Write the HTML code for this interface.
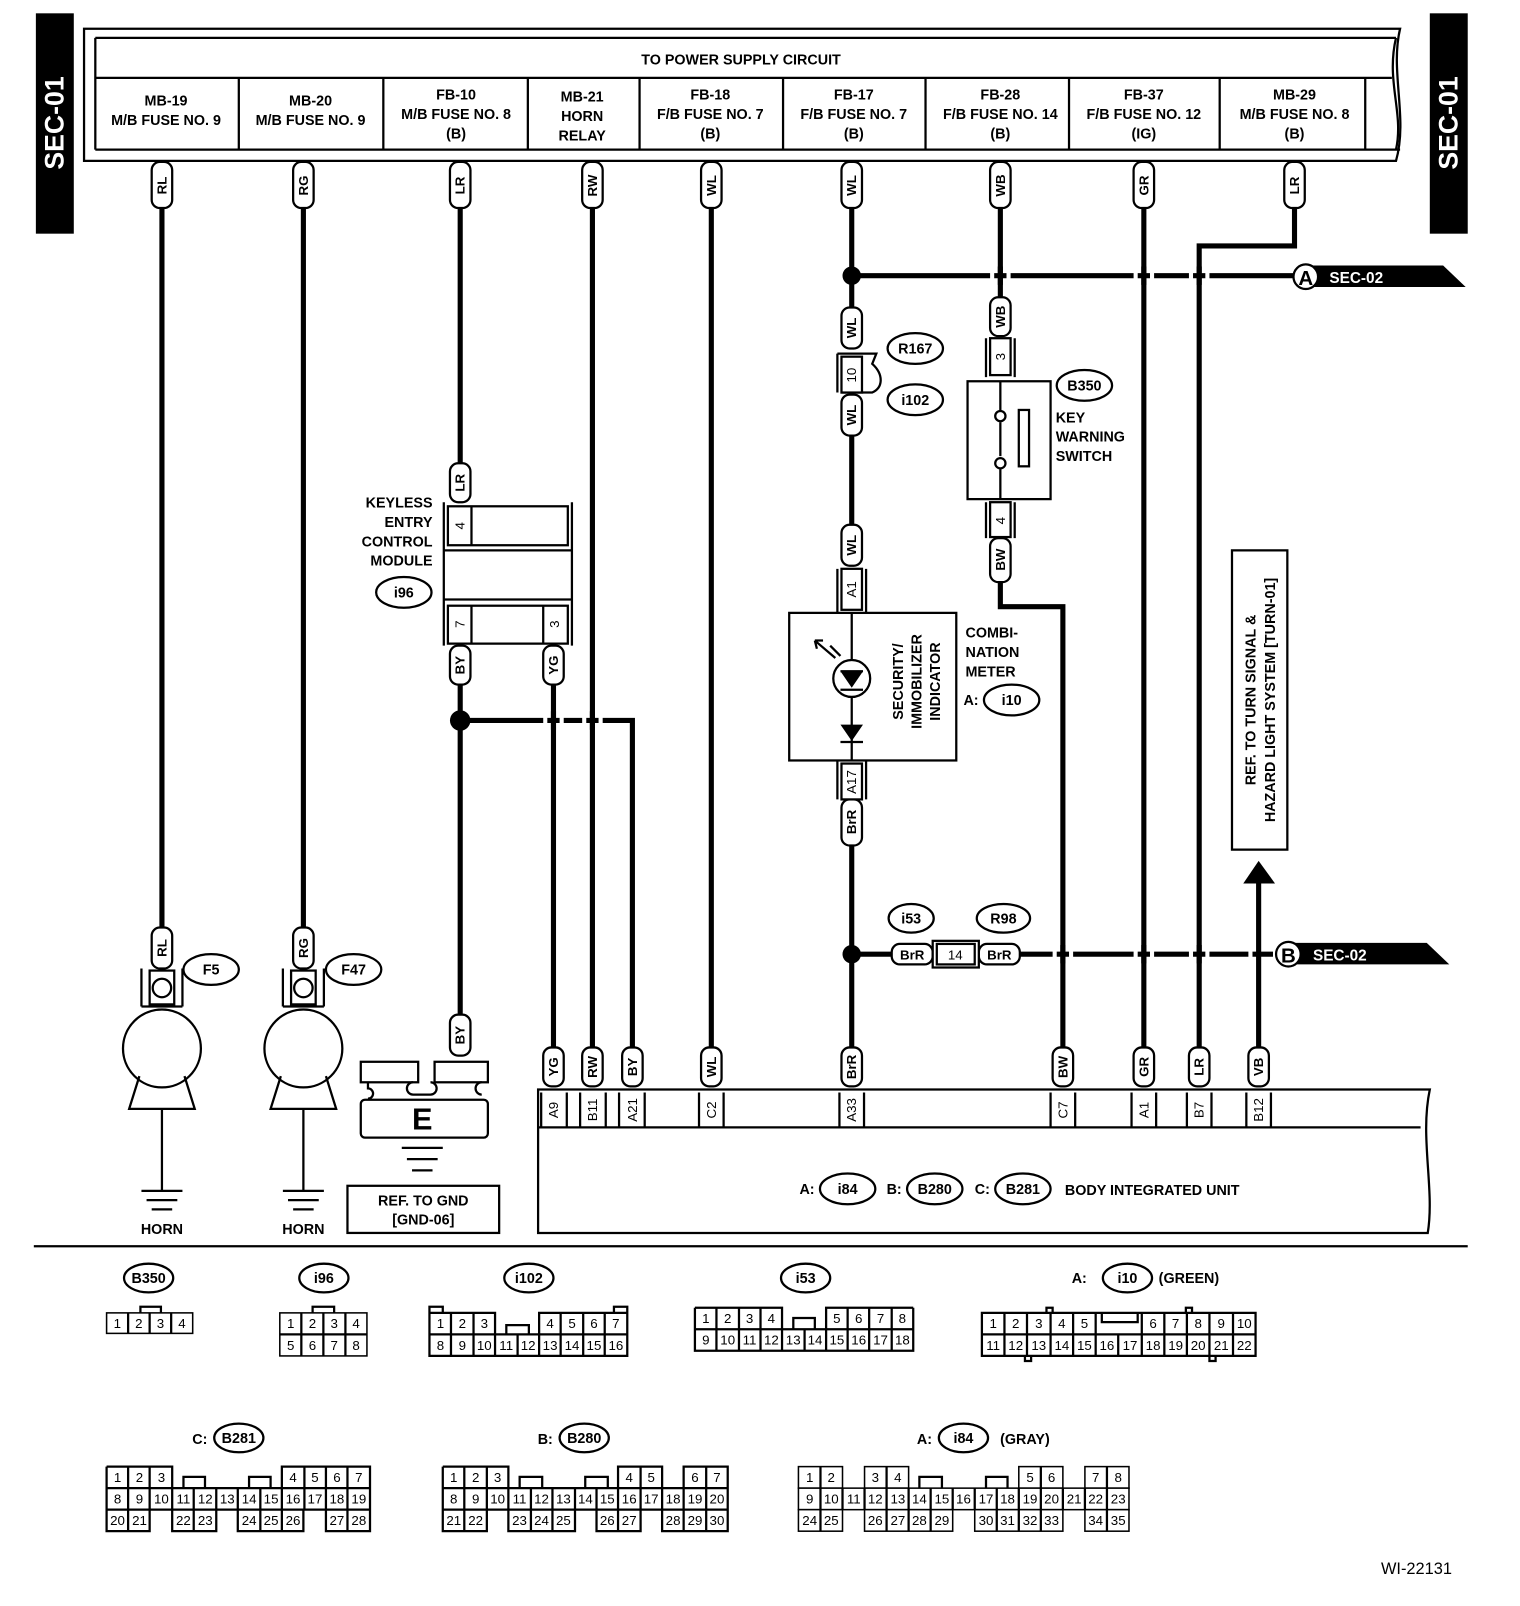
<!DOCTYPE html>
<html><head><meta charset="utf-8"><style>
html,body{margin:0;padding:0;background:#fff}
svg{display:block}
text{font-family:"Liberation Sans",sans-serif;fill:#000}
.h{font-size:14px;font-weight:bold;text-anchor:middle}
.p{font-size:13px;font-weight:bold;text-anchor:middle;dominant-baseline:central}
.l{font-size:14px;font-weight:bold}
.n{font-size:13px;text-anchor:middle}
.c{fill:#fff;stroke:#000;stroke-width:1.5}
.w{stroke:#000;stroke-width:5;fill:none}
.t{stroke:#000;stroke-width:2.2;fill:none}
.pl{fill:#fff;stroke:#000;stroke-width:2.2}
.e{fill:#fff;stroke:#000;stroke-width:2.2}
</style></head><body>
<svg width="1520" height="1606" viewBox="0 0 1483 1567" preserveAspectRatio="none" xmlns="http://www.w3.org/2000/svg">
<rect x="35" y="13" width="37" height="215" fill="#000"/>
<text transform="translate(62,120) rotate(-90)" style="font-size:26px;font-weight:bold;fill:#fff;text-anchor:middle">SEC-01</text>
<rect x="1395" y="13" width="37" height="215" fill="#000"/>
<text transform="translate(1422,120) rotate(-90)" style="font-size:26px;font-weight:bold;fill:#fff;text-anchor:middle">SEC-01</text>
<path d="M82,28 H1366 C1356,70 1374,115 1362,157 H82 Z" class="t" stroke-width="2.5"/>
<path d="M93,37 H1362 M93,76 H1358 M93,146 H1366 M93,37 V146" class="t" stroke-width="2.5"/>
<path d="M1362,37 C1352,80 1370,110 1362,146" class="t"/>
<text x="723" y="63" class="h" style="font-size:14px">TO POWER SUPPLY CIRCUIT</text>
<path d="M233,76V146M374,76V146M515,76V146M624,76V146M764,76V146M903,76V146M1043,76V146M1190,76V146M1332,76V146" class="t"/>
<g class="h">
<text x="162" y="103">MB-19</text><text x="162" y="122">M/B FUSE NO. 9</text>
<text x="303" y="103">MB-20</text><text x="303" y="122">M/B FUSE NO. 9</text>
<text x="445" y="97">FB-10</text><text x="445" y="116">M/B FUSE NO. 8</text><text x="445" y="135">(B)</text>
<text x="568" y="99">MB-21</text><text x="568" y="118">HORN</text><text x="568" y="137">RELAY</text>
<text x="693" y="97">FB-18</text><text x="693" y="116">F/B FUSE NO. 7</text><text x="693" y="135">(B)</text>
<text x="833" y="97">FB-17</text><text x="833" y="116">F/B FUSE NO. 7</text><text x="833" y="135">(B)</text>
<text x="976" y="97">FB-28</text><text x="976" y="116">F/B FUSE NO. 14</text><text x="976" y="135">(B)</text>
<text x="1116" y="97">FB-37</text><text x="1116" y="116">F/B FUSE NO. 12</text><text x="1116" y="135">(IG)</text>
<text x="1263" y="97">MB-29</text><text x="1263" y="116">M/B FUSE NO. 8</text><text x="1263" y="135">(B)</text>
</g>
<g class="w">
<path d="M158,203V905 M296,203V905"/>
<path d="M449,203V452 M449,668V990 M449,703H617V1022"/>
<path d="M540,668V1022 M578,203V1022 M694,203V1022"/>
<path d="M831,203V300 M831,425V512 M831,825V1022"/>
<path d="M976,203V290 M976,568V592H1037V1022"/>
<path d="M1116,203V1022 M1263,203V240H1170V1022 M1228,860V1022"/>
<path d="M831,269H1262"/>
<path d="M831,931H870 M995,931H1242"/>
</g>
<g stroke="#fff" stroke-width="7">
<path d="M966,269H970 M982,269H986 M1106,269H1110 M1122,269H1126 M1160,269H1164 M1176,269H1180"/>
<path d="M1027,931H1031 M1043,931H1047 M1106,931H1110 M1122,931H1126 M1160,931H1164 M1176,931H1180 M1218,931H1222"/>
<path d="M530,703H534 M546,703H550 M568,703H572 M584,703H588"/>
</g>
<path d="M976,260V278 M1116,260V278 M1170,260V278 M1037,922V940 M1116,922V940 M1170,922V940 M540,694V712 M578,694V712" class="w"/>
<circle cx="831" cy="269" r="9"/><circle cx="449" cy="703" r="10"/><circle cx="831" cy="931" r="9"/>
<path d="M1280,259H1408L1430,280H1280Z"/>
<circle cx="1274" cy="270" r="12" class="e" stroke-width="3"/>
<text x="1274" y="278" class="h" style="font-size:20px">A</text>
<text x="1297" y="276" style="font-size:15px;font-weight:bold;fill:#fff">SEC-02</text>
<path d="M1262,920H1392L1414,941H1262Z"/>
<circle cx="1257" cy="931" r="12" class="e" stroke-width="3"/>
<text x="1257" y="939" class="h" style="font-size:20px">B</text>
<text x="1281" y="937" style="font-size:15px;font-weight:bold;fill:#fff">SEC-02</text>
<path d="M1213,862H1244L1228,840Z"/>
<rect x="1202" y="537" width="54" height="292" class="pl"/>
<text transform="translate(1225,683) rotate(-90)" class="h" style="font-size:14px">REF. TO TURN SIGNAL &amp;</text>
<text transform="translate(1244,683) rotate(-90)" class="h" style="font-size:14px">HAZARD LIGHT SYSTEM [TURN-01]</text>
<g>
<rect x="148" y="158" width="20" height="45" rx="8" class="pl"/><text transform="translate(158,181) rotate(-90)" class="p">RL</text>
<rect x="286" y="158" width="20" height="45" rx="8" class="pl"/><text transform="translate(296,181) rotate(-90)" class="p">RG</text>
<rect x="439" y="158" width="20" height="45" rx="8" class="pl"/><text transform="translate(449,181) rotate(-90)" class="p">LR</text>
<rect x="568" y="158" width="20" height="45" rx="8" class="pl"/><text transform="translate(578,181) rotate(-90)" class="p">RW</text>
<rect x="684" y="158" width="20" height="45" rx="8" class="pl"/><text transform="translate(694,181) rotate(-90)" class="p">WL</text>
<rect x="821" y="158" width="20" height="45" rx="8" class="pl"/><text transform="translate(831,181) rotate(-90)" class="p">WL</text>
<rect x="966" y="158" width="20" height="45" rx="8" class="pl"/><text transform="translate(976,181) rotate(-90)" class="p">WB</text>
<rect x="1106" y="158" width="20" height="45" rx="8" class="pl"/><text transform="translate(1116,181) rotate(-90)" class="p">GR</text>
<rect x="1253" y="158" width="20" height="45" rx="8" class="pl"/><text transform="translate(1263,181) rotate(-90)" class="p">LR</text>
<rect x="821" y="300" width="20" height="40" rx="8" class="pl"/><text transform="translate(831,320) rotate(-90)" class="p">WL</text>
<rect x="821" y="385" width="20" height="40" rx="8" class="pl"/><text transform="translate(831,405) rotate(-90)" class="p">WL</text>
<rect x="821" y="512" width="20" height="40" rx="8" class="pl"/><text transform="translate(831,532) rotate(-90)" class="p">WL</text>
<rect x="821" y="780" width="20" height="45" rx="8" class="pl"/><text transform="translate(831,802) rotate(-90)" class="p">BrR</text>
<rect x="966" y="290" width="20" height="38" rx="8" class="pl"/><text transform="translate(976,309) rotate(-90)" class="p">WB</text>
<rect x="966" y="525" width="20" height="43" rx="8" class="pl"/><text transform="translate(976,546) rotate(-90)" class="p">BW</text>
<rect x="439" y="452" width="20" height="38" rx="8" class="pl"/><text transform="translate(449,471) rotate(-90)" class="p">LR</text>
<rect x="439" y="630" width="20" height="38" rx="8" class="pl"/><text transform="translate(449,649) rotate(-90)" class="p">BY</text>
<rect x="530" y="630" width="20" height="38" rx="8" class="pl"/><text transform="translate(540,649) rotate(-90)" class="p">YG</text>
<rect x="439" y="990" width="20" height="40" rx="8" class="pl"/><text transform="translate(449,1010) rotate(-90)" class="p">BY</text>
<rect x="148" y="905" width="20" height="40" rx="8" class="pl"/><text transform="translate(158,925) rotate(-90)" class="p">RL</text>
<rect x="286" y="905" width="20" height="40" rx="8" class="pl"/><text transform="translate(296,925) rotate(-90)" class="p">RG</text>
<rect x="530" y="1022" width="20" height="38" rx="8" class="pl"/><text transform="translate(540,1041) rotate(-90)" class="p">YG</text>
<rect x="568" y="1022" width="20" height="38" rx="8" class="pl"/><text transform="translate(578,1041) rotate(-90)" class="p">RW</text>
<rect x="607" y="1022" width="20" height="38" rx="8" class="pl"/><text transform="translate(617,1041) rotate(-90)" class="p">BY</text>
<rect x="684" y="1022" width="20" height="38" rx="8" class="pl"/><text transform="translate(694,1041) rotate(-90)" class="p">WL</text>
<rect x="821" y="1022" width="20" height="38" rx="8" class="pl"/><text transform="translate(831,1041) rotate(-90)" class="p">BrR</text>
<rect x="1027" y="1022" width="20" height="38" rx="8" class="pl"/><text transform="translate(1037,1041) rotate(-90)" class="p">BW</text>
<rect x="1106" y="1022" width="20" height="38" rx="8" class="pl"/><text transform="translate(1116,1041) rotate(-90)" class="p">GR</text>
<rect x="1160" y="1022" width="20" height="38" rx="8" class="pl"/><text transform="translate(1170,1041) rotate(-90)" class="p">LR</text>
<rect x="1218" y="1022" width="20" height="38" rx="8" class="pl"/><text transform="translate(1228,1041) rotate(-90)" class="p">VB</text>
</g>
<rect x="870" y="921" width="40" height="20" rx="8" class="pl"/><text x="890" y="936" class="h" style="font-size:13px">BrR</text>
<rect x="955" y="921" width="40" height="20" rx="8" class="pl"/><text x="975" y="936" class="h" style="font-size:13px">BrR</text>
<rect x="910" y="918" width="45" height="26" class="pl"/><rect x="914" y="921" width="37" height="20" class="pl"/><text x="932" y="936" class="h" style="font-size:13px;font-weight:normal">14</text>
<ellipse cx="889" cy="896" rx="22" ry="14" class="e"/><text x="889" y="901" class="h">i53</text>
<ellipse cx="979" cy="896" rx="26" ry="14" class="e"/><text x="979" y="901" class="h">R98</text>
<path d="M817,345V383 M817,345H855L851,355C862,365 862,378 851,383H821" class="t"/>
<rect x="821" y="348" width="20" height="35" class="pl"/><text transform="translate(831,366) rotate(-90)" class="p" style="font-weight:normal">10</text>
<ellipse cx="893" cy="340" rx="27" ry="15" class="e"/><text x="893" y="345" class="h">R167</text>
<ellipse cx="893" cy="390" rx="27" ry="15" class="e"/><text x="893" y="395" class="h">i102</text>
<path d="M962,330V368 M990,330V368" class="t"/>
<rect x="966" y="330" width="20" height="36" class="pl"/><text transform="translate(976,348) rotate(-90)" class="p" style="font-weight:normal">3</text>
<rect x="944" y="372" width="81" height="115" class="pl"/>
<path d="M976,372V400 M976,412V445 M976,458V487" class="t"/>
<circle cx="976" cy="406" r="5" class="e"/><circle cx="976" cy="452" r="5" class="e"/>
<rect x="994" y="400" width="10" height="55" class="pl"/>
<path d="M962,490V525 M990,490V525" class="t"/>
<rect x="966" y="490" width="20" height="34" class="pl"/><text transform="translate(976,508) rotate(-90)" class="p" style="font-weight:normal">4</text>
<ellipse cx="1058" cy="376" rx="27" ry="15" class="e"/><text x="1058" y="381" class="h">B350</text>
<text x="1030" y="412" class="l">KEY</text><text x="1030" y="431" class="l">WARNING</text><text x="1030" y="450" class="l">SWITCH</text>
<path d="M433,490V630 M558,490V630" class="t"/>
<rect x="437" y="494" width="117" height="38" class="pl" stroke-width="3"/>
<path d="M460,494V532" class="t"/>
<text transform="translate(449,513) rotate(-90)" class="p" style="font-weight:normal">4</text>
<path d="M433,537H558 M433,585H558" class="t"/>
<rect x="437" y="591" width="117" height="37" class="pl" stroke-width="3"/>
<path d="M460,591V628 M530,591V628" class="t"/>
<text transform="translate(449,609) rotate(-90)" class="p" style="font-weight:normal">7</text>
<text transform="translate(541,609) rotate(-90)" class="p" style="font-weight:normal">3</text>
<g class="l" style="text-anchor:end"><text x="422" y="495">KEYLESS</text><text x="422" y="514">ENTRY</text><text x="422" y="533">CONTROL</text><text x="422" y="552">MODULE</text></g>
<ellipse cx="394" cy="578" rx="27" ry="15" class="e"/><text x="394" y="583" class="h">i96</text>
<path d="M817,555V600 M845,555V600 M817,742V780 M845,742V780" class="t"/>
<rect x="821" y="555" width="20" height="40" class="pl" stroke-width="3"/><text transform="translate(831,575) rotate(-90)" class="p" style="font-weight:normal">A1</text>
<rect x="821" y="745" width="20" height="35" class="pl" stroke-width="3"/><text transform="translate(831,763) rotate(-90)" class="p" style="font-weight:normal">A17</text>
<rect x="770" y="598" width="163" height="144" class="pl"/>
<path d="M831,598V742" class="t"/>
<circle cx="831" cy="662" r="18" class="e"/>
<path d="M820,655H842L831,671Z M820,707H842L831,723Z"/>
<path d="M820,655H842 M820,673H842 M820,724H842" class="t"/>
<path d="M795,625L815,642 M810,630L820,640 M795,625L803,625 M795,625L797,633" class="t"/>
<text transform="translate(881,665) rotate(-90)" class="h" style="font-size:14px">SECURITY/</text>
<text transform="translate(899,665) rotate(-90)" class="h" style="font-size:14px">IMMOBILIZER</text>
<text transform="translate(917,665) rotate(-90)" class="h" style="font-size:14px">INDICATOR</text>
<text x="942" y="622" class="l">COMBI-</text><text x="942" y="641" class="l">NATION</text><text x="942" y="660" class="l">METER</text>
<text x="940" y="688" class="l">A:</text>
<ellipse cx="987" cy="683" rx="27" ry="15" class="e"/><text x="987" y="688" class="h">i10</text>
<g>
<path d="M138,945V982 M178,945V982 M138,982H178" class="t"/>
<rect x="146" y="947" width="24" height="33" class="pl"/><circle cx="158" cy="964" r="9" class="e"/>
<circle cx="158" cy="1023" r="38" class="e"/>
<path d="M136,1050L126,1082H190L180,1050" class="t"/>
<path d="M158,1082V1162 M138,1162H178 M143,1171H173 M148,1180H168" class="t"/>
<text x="158" y="1204" class="h">HORN</text>
<ellipse cx="206" cy="946" rx="27" ry="15" class="e"/><text x="206" y="951" class="h">F5</text>
<path d="M276,945V982 M316,945V982 M276,982H316" class="t"/>
<rect x="284" y="947" width="24" height="33" class="pl"/><circle cx="296" cy="964" r="9" class="e"/>
<circle cx="296" cy="1023" r="38" class="e"/>
<path d="M274,1050L264,1082H328L318,1050" class="t"/>
<path d="M296,1082V1162 M276,1162H316 M281,1171H311 M286,1180H306" class="t"/>
<text x="296" y="1204" class="h">HORN</text>
<ellipse cx="345" cy="946" rx="27" ry="15" class="e"/><text x="345" y="951" class="h">F47</text>
</g>
<rect x="352" y="1036" width="56" height="20" class="pl"/>
<rect x="424" y="1036" width="52" height="20" class="pl"/>
<path d="M359,1056V1062a5,5 0 0,1 0,10V1072 M403,1056a5,5 0 0,0 0,12H420a5,5 0 0,0 0,-12 M470,1056a5,5 0 0,0 0,12 M352,1077a4,4 0 0,1 4,-4H472a4,4 0 0,1 4,4V1106a4,4 0 0,1 -4,4H356a4,4 0 0,1 -4,-4Z" class="t"/>
<text x="412" y="1102" class="h" style="font-size:30px">E</text>
<path d="M392,1120H432 M397,1131H427 M402,1142H422" class="t"/>
<rect x="339" y="1157" width="148" height="46" class="pl"/>
<text x="413" y="1176" class="h">REF. TO GND</text><text x="413" y="1195" class="h">[GND-06]</text>
<path d="M525,1063H1395C1385,1110 1400,1160 1393,1203H525Z" class="t" stroke-width="2.5"/>
<path d="M525,1100H1386" class="t" stroke-width="2.5"/>
<path d="M528,1066V1100 M553,1066V1100 M566,1066V1100 M591,1066V1100 M604,1066V1100 M629,1066V1100 M682,1066V1100 M706,1066V1100 M819,1066V1100 M843,1066V1100 M1025,1066V1100 M1049,1066V1100 M1104,1066V1100 M1128,1066V1100 M1158,1066V1100 M1182,1066V1100 M1216,1066V1100 M1240,1066V1100" class="t" stroke-width="1.5"/>
<g>
<text transform="translate(540,1083) rotate(-90)" class="p" style="font-weight:normal">A9</text>
<text transform="translate(578,1083) rotate(-90)" class="p" style="font-weight:normal">B11</text>
<text transform="translate(617,1083) rotate(-90)" class="p" style="font-weight:normal">A21</text>
<text transform="translate(694,1083) rotate(-90)" class="p" style="font-weight:normal">C2</text>
<text transform="translate(831,1083) rotate(-90)" class="p" style="font-weight:normal">A33</text>
<text transform="translate(1037,1083) rotate(-90)" class="p" style="font-weight:normal">C7</text>
<text transform="translate(1116,1083) rotate(-90)" class="p" style="font-weight:normal">A1</text>
<text transform="translate(1170,1083) rotate(-90)" class="p" style="font-weight:normal">B7</text>
<text transform="translate(1228,1083) rotate(-90)" class="p" style="font-weight:normal">B12</text>
</g>
<text x="780" y="1165" class="l">A:</text>
<ellipse cx="827" cy="1160" rx="27" ry="15" class="e"/><text x="827" y="1165" class="h">i84</text>
<text x="865" y="1165" class="l">B:</text>
<ellipse cx="912" cy="1160" rx="27" ry="15" class="e"/><text x="912" y="1165" class="h">B280</text>
<text x="951" y="1165" class="l">C:</text>
<ellipse cx="998" cy="1160" rx="27" ry="15" class="e"/><text x="998" y="1165" class="h">B281</text>
<text x="1039" y="1166" class="l">BODY INTEGRATED UNIT</text>
<path d="M33,1216H1432" class="t"/>
<g class="h">
<ellipse cx="145" cy="1247" rx="24" ry="14" class="e"/><text x="145" y="1252">B350</text>
<ellipse cx="316" cy="1247" rx="24" ry="14" class="e"/><text x="316" y="1252">i96</text>
<ellipse cx="516" cy="1247" rx="24" ry="14" class="e"/><text x="516" y="1252">i102</text>
<ellipse cx="786" cy="1247" rx="24" ry="14" class="e"/><text x="786" y="1252">i53</text>
<text x="1053" y="1252">A:</text>
<ellipse cx="1100" cy="1247" rx="24" ry="14" class="e"/><text x="1100" y="1252">i10</text>
<text x="1160" y="1252">(GREEN)</text>
<text x="195" y="1409">C:</text>
<ellipse cx="233" cy="1403" rx="24" ry="14" class="e"/><text x="233" y="1408">B281</text>
<text x="532" y="1409">B:</text>
<ellipse cx="570" cy="1403" rx="24" ry="14" class="e"/><text x="570" y="1408">B280</text>
<text x="902" y="1409">A:</text>
<ellipse cx="940" cy="1403" rx="24" ry="14" class="e"/><text x="940" y="1408">i84</text>
<text x="1000" y="1409">(GRAY)</text>
<text x="1382" y="1536" style="font-size:16px;font-weight:normal">WI-22131</text>
</g>
<g class="t" stroke-width="1.5">
<rect x="104" y="1281" width="84" height="20" class="c"/>
<path d="M125,1281V1301M146,1281V1301M167,1281V1301M137,1281V1275H157V1281"/>
<rect x="273" y="1281" width="85" height="42" class="c"/>
<path d="M273,1302H358M294,1281V1323M315.5,1281V1323M337,1281V1323M305,1281V1275H326V1281"/>
<path d="M419,1281H483V1302 M526,1302V1281H612 M419,1281V1323H612V1281 M419,1302H612 M440,1281V1323M462,1281V1323M483,1281V1323M505,1302V1323M526,1281V1323M547,1281V1323M569,1281V1323M590,1281V1323 M494,1302V1293H516V1302 M419,1281V1275H432V1281 M599,1281V1275H612V1281"/>
<path d="M678,1276H763V1297 M806,1297V1276H891 M678,1276V1318H891V1276 M678,1297H891 M699,1276V1318M721,1276V1318M742,1276V1318M763,1297V1318M785,1297V1318M806,1276V1318M827,1276V1318M848,1276V1318M870,1276V1318 M774,1297V1286H795V1297"/>
<path d="M958,1281H1225V1323H958Z M958,1302H1225 M980,1281V1323M1002,1281V1323M1025,1281V1323M1047,1281V1323M1069,1281V1323M1114,1281V1323M1136,1281V1323M1158,1281V1323M1180,1281V1323M1203,1281V1323 M1091,1302V1323 M1075,1281V1290H1110V1281 M1021,1281V1276H1027V1281 M1157,1281V1276H1163V1281 M1000,1323V1328H1006V1323 M1180,1323V1328H1186V1323"/>
<path d="M104,1431H168V1452 M275,1452V1431H361V1494H318V1473 M104,1431V1494H146V1473 M168,1473V1494H211V1473 M232,1473V1494H296V1473 M104,1452H361 M104,1473H361 M125,1431V1494M146,1431V1473M168,1452V1473M189,1452V1494M211,1452V1473M232,1452V1473M254,1452V1494M275,1452V1494M297,1431V1473M318,1431V1473M339,1431V1494 M179,1452V1441H200V1452 M243,1452V1441H264V1452"/>
<path d="M432,1431H496V1452 M603,1452V1431H646V1452 M667,1452V1431H710V1494H646V1473 M432,1431V1494H475V1473 M496,1473V1494H561V1473 M582,1473V1494H625V1473 M432,1452H710 M432,1473H710 M453,1431V1494M475,1431V1473M496,1452V1473M518,1452V1494M539,1452V1494M561,1452V1473M582,1452V1473M603,1452V1494M625,1431V1473M646,1452V1473M667,1431V1494M689,1431V1494 M507,1452V1441H529V1452 M571,1452V1441H593V1452"/>
<rect x="779" y="1431" width="43" height="21" class="c"/>
<rect x="843.5" y="1431" width="43" height="21" class="c"/>
<rect x="994" y="1431" width="43" height="21" class="c"/>
<rect x="1058.5" y="1431" width="43" height="21" class="c"/>
<rect x="779" y="1452" width="322.5" height="21" class="c"/>
<rect x="779" y="1473" width="43" height="21" class="c"/>
<rect x="843.5" y="1473" width="86" height="21" class="c"/>
<rect x="951" y="1473" width="86" height="21" class="c"/>
<rect x="1058.5" y="1473" width="43" height="21" class="c"/>
<path d="M800.5,1431V1494 M865,1431V1494 M1015.5,1431V1494 M1080,1431V1494 M822,1452V1473 M843.5,1452V1473 M886.5,1452V1494 M908,1452V1494 M929.5,1452V1473 M951,1452V1473 M972.5,1452V1494 M994,1452V1494 M1037,1452V1473 M1058.5,1452V1473 M897,1452V1441H919V1452 M962,1452V1441H983V1452"/>
</g>
<g class="n">
<text x="114.5" y="1296">1</text><text x="135.5" y="1296">2</text><text x="156.5" y="1296">3</text><text x="177.5" y="1296">4</text>
<text x="283.6" y="1296">1</text><text x="304.9" y="1296">2</text><text x="326.1" y="1296">3</text><text x="347.4" y="1296">4</text>
<text x="283.6" y="1317">5</text><text x="304.9" y="1317">6</text><text x="326.1" y="1317">7</text><text x="347.4" y="1317">8</text>
<text x="429.7" y="1296">1</text><text x="451.1" y="1296">2</text><text x="472.5" y="1296">3</text><text x="536.7" y="1296">4</text><text x="558.1" y="1296">5</text><text x="579.5" y="1296">6</text><text x="600.9" y="1296">7</text>
<text x="429.7" y="1317">8</text><text x="451.1" y="1317">9</text><text x="472.5" y="1317">10</text><text x="493.9" y="1317">11</text><text x="515.3" y="1317">12</text><text x="536.7" y="1317">13</text><text x="558.1" y="1317">14</text><text x="579.5" y="1317">15</text><text x="600.9" y="1317">16</text>
<text x="688.7" y="1291">1</text><text x="710" y="1291">2</text><text x="731.3" y="1291">3</text><text x="752.6" y="1291">4</text><text x="816.5" y="1291">5</text><text x="837.8" y="1291">6</text><text x="859.1" y="1291">7</text><text x="880.4" y="1291">8</text>
<text x="688.7" y="1312">9</text><text x="710" y="1312">10</text><text x="731.3" y="1312">11</text><text x="752.6" y="1312">12</text><text x="773.9" y="1312">13</text><text x="795.2" y="1312">14</text><text x="816.5" y="1312">15</text><text x="837.8" y="1312">16</text><text x="859.1" y="1312">17</text><text x="880.4" y="1312">18</text>
<text x="969" y="1296">1</text><text x="991" y="1296">2</text><text x="1013.5" y="1296">3</text><text x="1036" y="1296">4</text><text x="1058" y="1296">5</text><text x="1125" y="1296">6</text><text x="1147" y="1296">7</text><text x="1169" y="1296">8</text><text x="1191.5" y="1296">9</text><text x="1214" y="1296">10</text>
<text x="969" y="1317">11</text><text x="991" y="1317">12</text><text x="1013.5" y="1317">13</text><text x="1036" y="1317">14</text><text x="1058" y="1317">15</text><text x="1080" y="1317">16</text><text x="1102.5" y="1317">17</text><text x="1125" y="1317">18</text><text x="1147" y="1317">19</text><text x="1169" y="1317">20</text><text x="1191.5" y="1317">21</text><text x="1214" y="1317">22</text>
<text x="114.7" y="1446">1</text><text x="136.1" y="1446">2</text><text x="157.5" y="1446">3</text><text x="285.9" y="1446">4</text><text x="307.3" y="1446">5</text><text x="328.7" y="1446">6</text><text x="350.1" y="1446">7</text>
<text x="114.7" y="1467">8</text><text x="136.1" y="1467">9</text><text x="157.5" y="1467">10</text><text x="178.9" y="1467">11</text><text x="200.3" y="1467">12</text><text x="221.7" y="1467">13</text><text x="243.1" y="1467">14</text><text x="264.5" y="1467">15</text><text x="285.9" y="1467">16</text><text x="307.3" y="1467">17</text><text x="328.7" y="1467">18</text><text x="350.1" y="1467">19</text>
<text x="114.7" y="1488">20</text><text x="136.1" y="1488">21</text><text x="178.9" y="1488">22</text><text x="200.3" y="1488">23</text><text x="243.1" y="1488">24</text><text x="264.5" y="1488">25</text><text x="285.9" y="1488">26</text><text x="328.7" y="1488">27</text><text x="350.1" y="1488">28</text>
<text x="442.7" y="1446">1</text><text x="464.1" y="1446">2</text><text x="485.5" y="1446">3</text><text x="613.9" y="1446">4</text><text x="635.3" y="1446">5</text><text x="678.1" y="1446">6</text><text x="699.5" y="1446">7</text>
<text x="442.7" y="1467">8</text><text x="464.1" y="1467">9</text><text x="485.5" y="1467">10</text><text x="506.9" y="1467">11</text><text x="528.3" y="1467">12</text><text x="549.7" y="1467">13</text><text x="571.1" y="1467">14</text><text x="592.5" y="1467">15</text><text x="613.9" y="1467">16</text><text x="635.3" y="1467">17</text><text x="656.7" y="1467">18</text><text x="678.1" y="1467">19</text><text x="699.5" y="1467">20</text>
<text x="442.7" y="1488">21</text><text x="464.1" y="1488">22</text><text x="506.9" y="1488">23</text><text x="528.3" y="1488">24</text><text x="549.7" y="1488">25</text><text x="592.5" y="1488">26</text><text x="613.9" y="1488">27</text><text x="656.7" y="1488">28</text><text x="678.1" y="1488">29</text><text x="699.5" y="1488">30</text>
<text x="790" y="1446">1</text><text x="811" y="1446">2</text><text x="854" y="1446">3</text><text x="876" y="1446">4</text><text x="1005" y="1446">5</text><text x="1026" y="1446">6</text><text x="1069" y="1446">7</text><text x="1091" y="1446">8</text>
<text x="790" y="1467">9</text><text x="811" y="1467">10</text><text x="833" y="1467">11</text><text x="854" y="1467">12</text><text x="876" y="1467">13</text><text x="897" y="1467">14</text><text x="919" y="1467">15</text><text x="940" y="1467">16</text><text x="962" y="1467">17</text><text x="983" y="1467">18</text><text x="1005" y="1467">19</text><text x="1026" y="1467">20</text><text x="1048" y="1467">21</text><text x="1069" y="1467">22</text><text x="1091" y="1467">23</text>
<text x="790" y="1488">24</text><text x="811" y="1488">25</text><text x="854" y="1488">26</text><text x="876" y="1488">27</text><text x="897" y="1488">28</text><text x="919" y="1488">29</text><text x="962" y="1488">30</text><text x="983" y="1488">31</text><text x="1005" y="1488">32</text><text x="1026" y="1488">33</text><text x="1069" y="1488">34</text><text x="1091" y="1488">35</text>
</g>
</svg>
</body></html>
